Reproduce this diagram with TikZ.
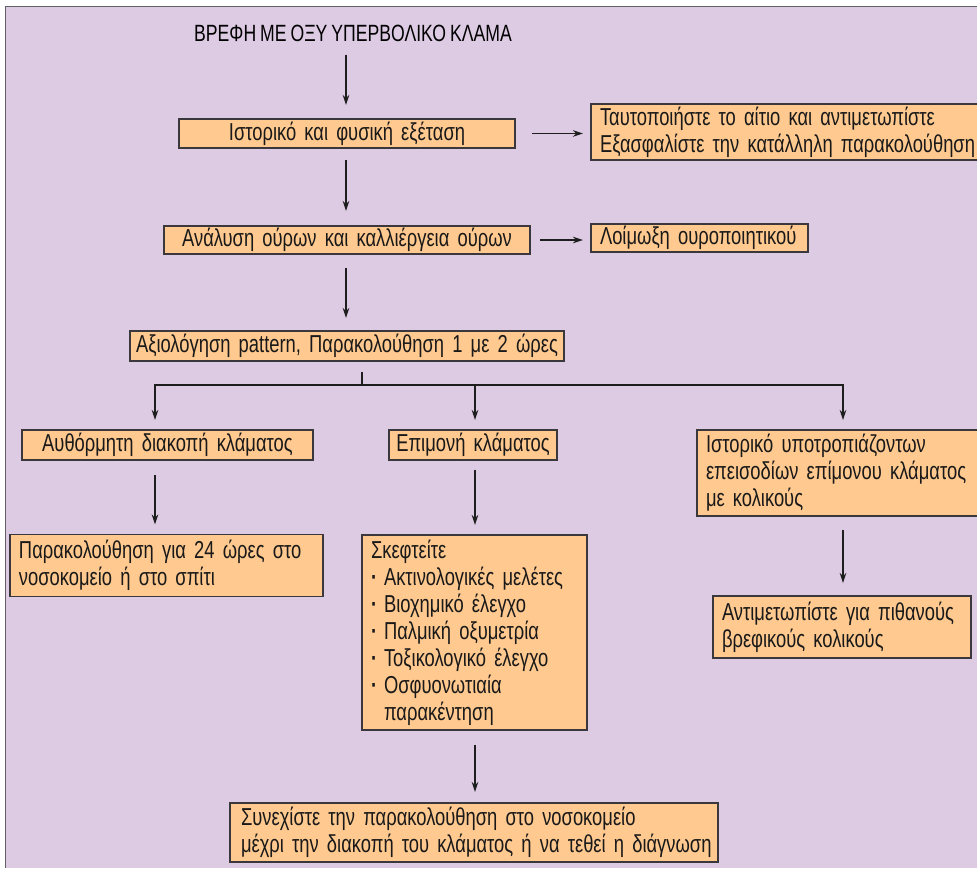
\documentclass[tikz,border=0pt]{standalone}
\usepackage{fontspec}
\setmainfont[FakeStretch=0.75, WordSpace={0.8}]{Liberation Sans}
\usetikzlibrary{arrows.meta}
\definecolor{bgc}{RGB}{221,203,228}
\definecolor{boxc}{RGB}{255,201,143}
\definecolor{bordc}{RGB}{58,56,60}
\definecolor{arrc}{RGB}{30,30,30}
\newcommand{\mainsz}{\fontsize{24.5}{27}\selectfont}
\newcommand{\bul}{\makebox[13pt][l]{\textbf{·}}}
\tikzset{
  box/.style={draw=bordc, fill=boxc, line width=1.3pt, inner ysep=0pt, inner xsep=0pt,
    outer sep=0pt, align=center, font=\mainsz, text=black!90},
  lbox/.style={box, align=left, inner xsep=9pt},
  arr/.style={-{Stealth[length=10pt,width=6.5pt]}, line width=1.1pt, draw=arrc},
  plain/.style={line width=1.1pt, draw=arrc}
}
\begin{document}
\begin{tikzpicture}[x=1pt,y=-1pt]
\useasboundingbox (0,0) rectangle (977,868);
\fill[white] (0,0) rectangle (977,868);
\fill[bgc] (5.5,6.5) rectangle (977,868);
\draw[bordc!80, line width=1.6pt] (5.5,868) -- (5.5,6.5) -- (977,6.5);

\node[font=\fontsize{23.5}{26}\selectfont, inner sep=0pt] (title) at (353,33) {ΒΡΕΦΗ ΜΕ ΟΞΥ ΥΠΕΡΒΟΛΙΚΟ ΚΛΑΜΑ};

\node[box, text width=336pt, minimum height=29pt] (b1) at (347,133.5) {Ιστορικό και φυσική εξέταση};
\node[lbox, text width=382pt, minimum height=56pt] (r1) at (791,132) {Ταυτοποιήστε το αίτιο και αντιμετωπίστε\\Εξασφαλίστε την κατάλληλη παρακολούθηση};

\node[box, text width=366pt, minimum height=28pt] (b2) at (347,240) {Ανάλυση ούρων και καλλιέργεια ούρων};
\node[lbox, text width=199pt, minimum height=28pt] (r2) at (699.5,238) {Λοίμωξη ουροποιητικού};

\node[box, text width=434pt, minimum height=30pt] (b3) at (347,346) {Αξιολόγηση pattern, Παρακολούθηση 1 με 2 ώρες};

\node[box, text width=291pt, minimum height=30pt] (l1) at (167.5,445) {Αυθόρμητη διακοπή κλάματος};
\node[box, text width=168pt, minimum height=30pt] (m1) at (473,445) {Επιμονή κλάματος};
\node[lbox, text width=275pt, minimum height=86pt] (rt1) at (843.5,473) {Ιστορικό υποτροπιάζοντων\\επεισοδίων επίμονου κλάματος\\με κολικούς};

\node[lbox, text width=295pt, minimum height=62pt] (l2) at (166.5,565.5) {Παρακολούθηση για 24 ώρες στο\\νοσοκομείο ή στο σπίτι};
\node[lbox, text width=207pt, minimum height=195pt] (m2) at (474.5,632.5) {Σκεφτείτε\\\bul Ακτινολογικές μελέτες\\\bul Βιοχημικό έλεγχο\\\bul Παλμική οξυμετρία\\\bul Τοξικολογικό έλεγχο\\\bul Οσφυονωτιαία\\\hspace*{13pt}παρακέντηση};
\node[lbox, text width=240pt, minimum height=62pt] (r3) at (842,627) {Αντιμετωπίστε για πιθανούς\\βρεφικούς κολικούς};

\node[lbox, inner xsep=11pt, text width=466pt, minimum height=59pt] (bot) at (474,832.5) {Συνεχίστε την παρακολούθηση στο νοσοκομείο\\\mbox{μέχρι την διακοπή του κλάματος ή να τεθεί η διάγνωση}};

\coordinate (split) at (362,385);

\draw[arr] ([yshift=-13pt]title.south -| 346,0) -- ([yshift=14pt]b1.north -| 346,0);
\draw[arr, shorten <=17pt, shorten >=8pt] (b1.east) -- (b1.east -| r1.west);
\draw[arr, shorten <=12pt, shorten >=15pt] (b1.south -| 346,0) -- (b2.north -| 346,0);
\draw[arr, shorten <=10pt, shorten >=8pt] (b2.east) -- (b2.east -| r2.west);
\draw[arr, shorten <=14pt, shorten >=13pt] (b2.south -| 346,0) -- (b3.north -| 346,0);
\draw[plain, shorten <=11pt] (b3.south -| split) -- (split);
\draw[arr, shorten >=10pt] (split) -| ([xshift=-12.5pt]l1.north);
\draw[arr, shorten >=10pt] (split) -| ([xshift=2pt]m1.north);
\draw[arr, shorten >=10pt] (split) -| (rt1.north -| 843,0);
\draw[arr, shorten <=15pt, shorten >=10pt] ([xshift=-12.5pt]l1.south) -- ([xshift=-12.5pt]l1.south |- l2.north);
\draw[arr, shorten <=10pt, shorten >=10pt] ([xshift=2pt]m1.south) -- ([xshift=2pt]m1.south |- m2.north);
\draw[arr, shorten <=14pt, shorten >=13pt] (rt1.south -| 843,0) -- (r3.north -| 843,0);
\draw[arr, shorten <=15pt, shorten >=11pt] (m2.south -| 475,0) -- (bot.north -| 475,0);
\end{tikzpicture}
\end{document}
